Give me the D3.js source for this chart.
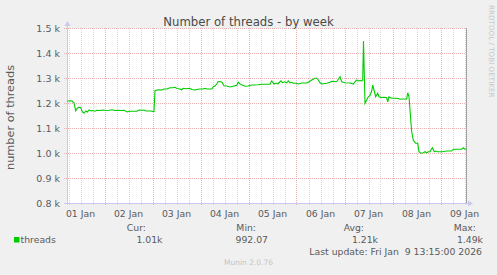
<!DOCTYPE html>
<html>
<head>
<meta charset="utf-8">
<script src="https://cdn.jsdelivr.net/npm/d3@7"></script>
<style>
  body { margin: 0; background: #f0f0f0; }
  svg { display: block; }
</style>
</head>
<body>
<div id="chart"></div>
<script>
// hours since 2026-01-01 00:00 UTC
const hours = [
  5.25, 6.9, 7.75, 8.75, 9.6, 10.4, 11.25, 12.1, 12.9, 13.75,
  14.6, 15.4, 16.25, 17.25, 18.25, 19.25, 20.25, 21.75, 23.25, 24.75,
  26.25, 27.75, 29.25, 30.75, 32.25, 33.75, 35.4, 36.25, 38.25, 40.25,
  41.25, 42.75, 43.75, 44.75, 47.25, 48.25, 48.75, 49.25, 50.25, 51.75,
  52.75, 53.75, 55.25, 56.75, 58.25, 59.25, 60.25, 61.75, 62.6, 63.25,
  64.75, 66.75, 67.6, 69.25, 70.1, 71.75, 73.25, 74.25, 75.1, 76.75,
  77.75, 78.4, 79.25, 80.1, 80.75, 81.75, 82.75, 83.75, 85.1, 86.75,
  88.25, 90.1, 90.9, 91.75, 92.6, 94.25, 95.75, 97.6, 99.25, 100.75,
  102.75, 104.75, 106.75, 107.6, 108.75, 109.75, 110.75, 111.75, 112.25, 112.9,
  113.9, 115.1, 115.9, 116.75, 117.6, 118.4, 120.1, 120.9, 122.6, 125.1,
  125.9, 127.6, 129.25, 130.1, 130.9, 131.75, 132.6, 135.1, 136.75, 137.6,
  140.1, 141.75, 142.6, 144.25, 146.75, 148.4, 149.25, 150.1, 150.9, 151.75,
  152.6, 153.1, 153.5, 154.25, 155.1, 155.9, 156.75, 157.6, 158.1, 158.75,
  159.6, 160.6, 161.25, 162.25, 163.75, 165.1, 165.6, 166.25, 167.6, 169.25,
  170.9, 171.75, 173.25, 175.1, 175.6, 176.25, 176.75, 177.25, 177.6, 178.4,
  178.9, 179.6, 180.6, 181.25, 182.25, 183.4, 184.25, 185.1, 185.9, 186.75,
  187.9, 188.9, 189.6, 190.6, 192.75, 195.1, 197.6, 198.4, 200.75, 202.6,
  203.4, 204.25, 204.75
]
const threads = [
  1207, 1209, 1208, 1201, 1169, 1179, 1183, 1182, 1165, 1159,
  1168, 1164, 1172, 1168, 1170, 1167, 1171, 1170, 1172, 1170,
  1171, 1173, 1170, 1171, 1170, 1171, 1164, 1167, 1167, 1167,
  1172, 1171, 1172, 1168, 1168, 1166, 1166, 1249, 1252, 1253,
  1252, 1256, 1256, 1261, 1261, 1263, 1258, 1256, 1252, 1259,
  1257, 1259, 1254, 1252, 1254, 1256, 1256, 1259, 1256, 1256,
  1256, 1265, 1268, 1276, 1285, 1286, 1283, 1269, 1268, 1264,
  1267, 1271, 1283, 1276, 1273, 1267, 1268, 1272, 1272, 1273,
  1275, 1275, 1275, 1288, 1276, 1280, 1277, 1285, 1289, 1281,
  1285, 1281, 1289, 1281, 1283, 1279, 1279, 1276, 1280, 1280,
  1283, 1292, 1299, 1299, 1292, 1281, 1276, 1279, 1283, 1287,
  1285, 1305, 1285, 1281, 1280, 1276, 1285, 1292, 1288, 1290,
  1288, 1292, 1448, 1199, 1212, 1225, 1230, 1248, 1272, 1252,
  1225, 1239, 1225, 1222, 1223, 1221, 1205, 1225, 1219, 1219,
  1218, 1215, 1216, 1216, 1241, 1225, 1172, 1119, 1085, 1052,
  1045, 1039, 1039, 1005, 999, 1001, 1005, 1001, 1005, 1005,
  1021, 1005, 1008, 1005, 1005, 1008, 1008, 1015, 1015, 1015,
  1021, 1015, 1016
]

const yTicks = [800, 900, 1000, 1100, 1200, 1300, 1400, 1500]
const legendHeads = ["Cur:", "Min:", "Avg:", "Max:"]
const legendValues = ["1.01k", "992.07", "1.21k", "1.49k"]
const seriesName = "threads"
const title = "Number of threads - by week"
const yTitle = "number of threads"
const lastUpdate = "Last update: Fri Jan  9 13:15:00 2026"
const footer = "Munin 2.0.76"
const sideText = "RRDTOOL / TOBI OETIKER"

const t0 = Date.UTC(2026, 0, 1)
const start = new Date(Date.UTC(2026, 0, 1, 5, 15))
const end = new Date(Date.UTC(2026, 0, 9, 13, 15))
const data = hours.map((h, i) => ({ t: new Date(t0 + h * 3600e3), v: threads[i] }))

const W = 497, H = 275
const margin = { top: 28, right: 30, bottom: 72, left: 67 }
const font = "DejaVu Sans, sans-serif"
const textColor = "#5a5a5a"
const lineColor = "#00cc00"

const x = d3.scaleUtc().domain([start, end]).range([margin.left, W - margin.right])
const y = d3.scaleLinear().domain([800, 1500]).range([H - margin.bottom, margin.top])
const [px0, px1] = x.range()
const [py1, py0] = y.range()

const svg = d3.select("#chart").append("svg")
  .attr("width", W).attr("height", H)
  .style("background", "#f0f0f0")
  .style("font-family", font)

// plot canvas
svg.append("rect")
  .attr("x", px0).attr("y", py0)
  .attr("width", px1 - px0).attr("height", py1 - py0)
  .attr("fill", "#fff")

// minor grid, every 6 hours
const minor = d3.utcHour.every(6).range(start, end).filter(d => d.getUTCHours() !== 0)
svg.append("g").selectAll("line").data(minor).join("line")
  .attr("x1", d => Math.round(x(d)) + 0.5).attr("x2", d => Math.round(x(d)) + 0.5)
  .attr("y1", py0).attr("y2", py1 + 2)
  .attr("stroke", "#d6d6d6").attr("stroke-dasharray", "1,1")

// major grid, midnights
const major = d3.utcDay.range(start, end)
svg.append("g").selectAll("line").data(major).join("line")
  .attr("x1", d => Math.round(x(d)) + 0.5).attr("x2", d => Math.round(x(d)) + 0.5)
  .attr("y1", py0).attr("y2", py1 + 3)
  .attr("stroke", "#eab2b2").attr("stroke-dasharray", "1,1")

// horizontal grid
svg.append("g").selectAll("line").data(yTicks).join("line")
  .attr("x1", px0 - 3).attr("x2", px1)
  .attr("y1", d => Math.round(y(d)) + 0.5).attr("y2", d => Math.round(y(d)) + 0.5)
  .attr("stroke", "#eab2b2").attr("stroke-dasharray", "1,1")

// y tick labels
svg.append("g").selectAll("text").data(yTicks).join("text")
  .attr("x", px0 - 7).attr("y", d => y(d) + 3.5)
  .attr("text-anchor", "end")
  .attr("font-size", 9.5).attr("fill", textColor)
  .text(d => (d / 1000).toFixed(1) + " k")

// x tick labels, centred on noon of each day
const noons = d3.utcDay.range(d3.utcDay.floor(start), end).map(d => d3.utcHour.offset(d, 12))
svg.append("g").selectAll("text").data(noons).join("text")
  .attr("x", d => x(d)).attr("y", py1 + 13.5)
  .attr("text-anchor", "middle")
  .attr("font-size", 9.3).attr("fill", textColor)
  .text(d3.utcFormat("%d %b"))

// axes with arrows
const axisColor = "#c8c8f0"
svg.append("line")
  .attr("x1", px0 + 0.5).attr("x2", px0 + 0.5).attr("y1", py1 + 2).attr("y2", py0 - 4)
  .attr("stroke", axisColor)
svg.append("path")
  .attr("d", `M${px0 - 2.5},${py0 - 2}L${px0 + 3.5},${py0 - 2}L${px0 + 0.5},${py0 - 7}Z`)
  .attr("fill", axisColor)
svg.append("line")
  .attr("x1", px0 - 3).attr("x2", px1 + 3).attr("y1", py1 + 0.5).attr("y2", py1 + 0.5)
  .attr("stroke", axisColor)
svg.append("path")
  .attr("d", `M${px1 + 1},${py1 - 2.5}L${px1 + 1},${py1 + 3.5}L${px1 + 6},${py1 + 0.5}Z`)
  .attr("fill", axisColor)
svg.append("line")
  .attr("x1", px1 - 0.5).attr("x2", px1 - 0.5).attr("y1", py0).attr("y2", py1)
  .attr("stroke", "#a0a0a0")

// the series
svg.append("path")
  .datum(data)
  .attr("fill", "none")
  .attr("stroke", lineColor)
  .attr("stroke-width", 1.1)
  .attr("d", d3.line().x(d => x(d.t)).y(d => y(d.v)))

// title
svg.append("text")
  .attr("x", W / 2).attr("y", 26)
  .attr("text-anchor", "middle")
  .attr("font-size", 11.7).attr("fill", "#4a4a4a")
  .text(title)

// y axis title
svg.append("text")
  .attr("transform", `translate(13.5,${(py0 + py1) / 2 + 2}) rotate(-90)`)
  .attr("text-anchor", "middle")
  .attr("font-size", 11.3).attr("fill", textColor)
  .text(yTitle)

// rrdtool credit
svg.append("text")
  .attr("transform", `translate(488.5,5) rotate(90)`)
  .attr("font-size", 7.2).attr("fill", "#c8c8c8")
  .text(sideText)

// legend
const headEnds = [146, 256, 364, 476]
const valueEnds = [162.5, 268, 378, 483]
svg.append("g").selectAll("text").data(legendHeads).join("text")
  .attr("x", (d, i) => headEnds[i]).attr("y", 231)
  .attr("text-anchor", "end")
  .attr("font-size", 9.3).attr("fill", textColor)
  .text(d => d)
svg.append("g").selectAll("text").data(legendValues).join("text")
  .attr("x", (d, i) => valueEnds[i]).attr("y", 243)
  .attr("text-anchor", "end")
  .attr("font-size", 9.3).attr("fill", textColor)
  .text(d => d)
svg.append("rect")
  .attr("x", 14).attr("y", 237).attr("width", 5.5).attr("height", 5.5)
  .attr("fill", lineColor)
svg.append("text")
  .attr("x", 20.5).attr("y", 243)
  .attr("font-size", 9.3).attr("fill", textColor)
  .text(seriesName)

svg.append("text")
  .attr("x", 482).attr("y", 255)
  .attr("text-anchor", "end")
  .attr("font-size", 9.3).attr("fill", textColor)
  .style("white-space", "pre")
  .text(lastUpdate)

svg.append("text")
  .attr("x", W / 2).attr("y", 265)
  .attr("text-anchor", "middle")
  .attr("font-size", 7.5).attr("fill", "#c4c4c4")
  .text(footer)
</script>
</body>
</html>
